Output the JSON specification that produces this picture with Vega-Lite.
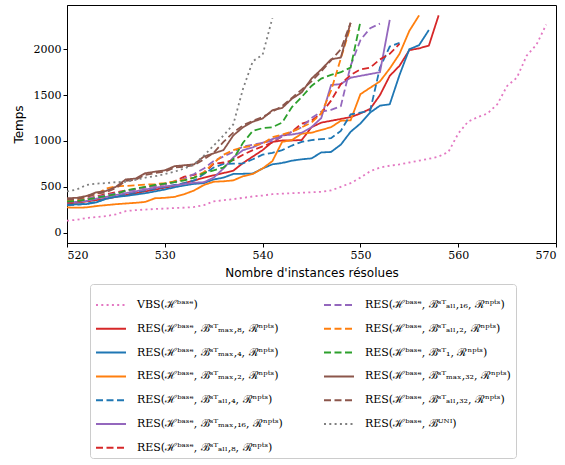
{
  "$schema": "https://vega.github.io/schema/vega-lite/v6.json",
  "width": 489,
  "height": 238,
  "autosize": {"type": "none"},
  "padding": {"left": 67, "top": 5, "right": 9, "bottom": 222},
  "background": "white",
  "config": {
    "view": {"stroke": "black", "strokeWidth": 1},
    "axis": {
      "domainColor": "black", "tickColor": "black", "tickSize": 4, "grid": false,
      "labelFont": "DejaVu Serif", "labelFontSize": 11, "labelColor": "black",
      "titleFont": "DejaVu Sans", "titleFontSize": 12, "titleFontWeight": "normal", "titleColor": "black"
    }
  },
  "datasets": {
    "labels": [
      {"s": "vbs", "label": "VBS(ℋᵇᵃˢᵉ)"},
      {"s": "m8", "label": "RES(ℋᵇᵃˢᵉ, ℬˢᵀₘₐₓ,₈, ℛⁿᵖᵗˢ)"},
      {"s": "m4", "label": "RES(ℋᵇᵃˢᵉ, ℬˢᵀₘₐₓ,₄, ℛⁿᵖᵗˢ)"},
      {"s": "m2", "label": "RES(ℋᵇᵃˢᵉ, ℬˢᵀₘₐₓ,₂, ℛⁿᵖᵗˢ)"},
      {"s": "a4", "label": "RES(ℋᵇᵃˢᵉ, ℬˢᵀₐₗₗ,₄, ℛⁿᵖᵗˢ)"},
      {"s": "m16", "label": "RES(ℋᵇᵃˢᵉ, ℬˢᵀₘₐₓ,₁₆, ℛⁿᵖᵗˢ)"},
      {"s": "a8", "label": "RES(ℋᵇᵃˢᵉ, ℬˢᵀₐₗₗ,₈, ℛⁿᵖᵗˢ)"},
      {"s": "a16", "label": "RES(ℋᵇᵃˢᵉ, ℬˢᵀₐₗₗ,₁₆, ℛⁿᵖᵗˢ)"},
      {"s": "a2", "label": "RES(ℋᵇᵃˢᵉ, ℬˢᵀₐₗₗ,₂, ℛⁿᵖᵗˢ)"},
      {"s": "b1", "label": "RES(ℋᵇᵃˢᵉ, ℬˢᵀ₁, ℛⁿᵖᵗˢ)"},
      {"s": "m32", "label": "RES(ℋᵇᵃˢᵉ, ℬˢᵀₘₐₓ,₃₂, ℛⁿᵖᵗˢ)"},
      {"s": "a32", "label": "RES(ℋᵇᵃˢᵉ, ℬˢᵀₐₗₗ,₃₂, ℛⁿᵖᵗˢ)"},
      {"s": "uni", "label": "RES(ℋᵇᵃˢᵉ, ℬᵁᴺᴵ)"}
    ]
  },
  "data": {
    "values": [
      {"x": 520, "vbs": 130, "m8": 320, "m4": 305, "m2": 275, "a4": 300, "m16": 330, "a8": 335, "a16": 345, "a2": 350, "b1": 340, "m32": 375, "a32": 362, "uni": 450},
      {"x": 521, "vbs": 140, "m8": 325, "m4": 308, "m2": 272, "a4": 305, "m16": 335, "a8": 340, "a16": 350, "a2": 360, "b1": 345, "m32": 380, "a32": 368, "uni": 470},
      {"x": 522, "vbs": 160, "m8": 340, "m4": 312, "m2": 275, "a4": 315, "m16": 345, "a8": 365, "a16": 370, "a2": 390, "b1": 360, "m32": 400, "a32": 388, "uni": 520},
      {"x": 523, "vbs": 170, "m8": 355, "m4": 330, "m2": 290, "a4": 335, "m16": 370, "a8": 395, "a16": 390, "a2": 420, "b1": 380, "m32": 440, "a32": 425, "uni": 535},
      {"x": 524, "vbs": 180, "m8": 370, "m4": 370, "m2": 300, "a4": 370, "m16": 390, "a8": 420, "a16": 410, "a2": 480, "b1": 400, "m32": 455, "a32": 440, "uni": 540},
      {"x": 525, "vbs": 200, "m8": 390, "m4": 390, "m2": 310, "a4": 400, "m16": 410, "a8": 440, "a16": 430, "a2": 505, "b1": 420, "m32": 500, "a32": 485, "uni": 550},
      {"x": 526, "vbs": 235, "m8": 410, "m4": 400, "m2": 318, "a4": 420, "m16": 430, "a8": 460, "a16": 450, "a2": 510, "b1": 460, "m32": 580, "a32": 565, "uni": 555},
      {"x": 527, "vbs": 245, "m8": 430, "m4": 415, "m2": 325, "a4": 440, "m16": 450, "a8": 475, "a16": 470, "a2": 515, "b1": 480, "m32": 590, "a32": 575, "uni": 575},
      {"x": 528, "vbs": 252, "m8": 450, "m4": 430, "m2": 335, "a4": 460, "m16": 470, "a8": 495, "a16": 490, "a2": 525, "b1": 500, "m32": 648, "a32": 630, "uni": 600},
      {"x": 529, "vbs": 258, "m8": 470, "m4": 450, "m2": 375, "a4": 480, "m16": 490, "a8": 510, "a16": 510, "a2": 530, "b1": 520, "m32": 665, "a32": 650, "uni": 615},
      {"x": 530, "vbs": 262, "m8": 490, "m4": 470, "m2": 380, "a4": 500, "m16": 505, "a8": 530, "a16": 530, "a2": 540, "b1": 535, "m32": 680, "a32": 665, "uni": 640},
      {"x": 531, "vbs": 268, "m8": 510, "m4": 495, "m2": 390, "a4": 520, "m16": 515, "a8": 560, "a16": 550, "a2": 560, "b1": 550, "m32": 725, "a32": 710, "uni": 665},
      {"x": 532, "vbs": 272, "m8": 540, "m4": 515, "m2": 420, "a4": 540, "m16": 530, "a8": 610, "a16": 590, "a2": 580, "b1": 570, "m32": 735, "a32": 720, "uni": 700},
      {"x": 533, "vbs": 280, "m8": 568, "m4": 532, "m2": 460, "a4": 570, "m16": 545, "a8": 630, "a16": 640, "a2": 600, "b1": 600, "m32": 745, "a32": 735, "uni": 745},
      {"x": 534, "vbs": 300, "m8": 600, "m4": 540, "m2": 520, "a4": 640, "m16": 550, "a8": 650, "a16": 700, "a2": 660, "b1": 650, "m32": 830, "a32": 800, "uni": 840},
      {"x": 535, "vbs": 340, "m8": 625, "m4": 580, "m2": 555, "a4": 710, "m16": 600, "a8": 750, "a16": 780, "a2": 760, "b1": 680, "m32": 865, "a32": 870, "uni": 950},
      {"x": 536, "vbs": 355, "m8": 650, "m4": 600, "m2": 560, "a4": 750, "m16": 700, "a8": 765, "a16": 830, "a2": 850, "b1": 710, "m32": 900, "a32": 990, "uni": 1060},
      {"x": 537, "vbs": 365, "m8": 675, "m4": 640, "m2": 570, "a4": 752, "m16": 820, "a8": 790, "a16": 880, "a2": 900, "b1": 800, "m32": 1060, "a32": 1090, "uni": 1180},
      {"x": 538, "vbs": 380, "m8": 760, "m4": 642, "m2": 615, "a4": 755, "m16": 900, "a8": 850, "a16": 940, "a2": 930, "b1": 980, "m32": 1150, "a32": 1170, "uni": 1570},
      {"x": 539, "vbs": 395, "m8": 830, "m4": 645, "m2": 640, "a4": 800, "m16": 930, "a8": 900, "a16": 960, "a2": 950, "b1": 1110, "m32": 1210, "a32": 1220, "uni": 1870},
      {"x": 540, "vbs": 405, "m8": 900, "m4": 700, "m2": 700, "a4": 850, "m16": 980, "a8": 940, "a16": 980, "a2": 970, "b1": 1140, "m32": 1245, "a32": 1260, "uni": 1940},
      {"x": 541, "vbs": 420, "m8": 990, "m4": 745, "m2": 780, "a4": 870, "m16": 1020, "a8": 985, "a16": 1000, "a2": 1040, "b1": 1150, "m32": 1335, "a32": 1320, "uni": 2340},
      {"x": 542, "vbs": 425, "m8": 1005, "m4": 760, "m2": 990, "a4": 900, "m16": 1060, "a8": 1050, "a16": 1050, "a2": 1070, "b1": 1200, "m32": 1360, "a32": 1380},
      {"x": 543, "vbs": 430, "m8": 1005, "m4": 785, "m2": 1010, "a4": 950, "m16": 1070, "a8": 1100, "a16": 1100, "a2": 1100, "b1": 1370, "m32": 1460, "a32": 1470},
      {"x": 544, "vbs": 435, "m8": 1010, "m4": 800, "m2": 1080, "a4": 990, "m16": 1090, "a8": 1190, "a16": 1150, "a2": 1150, "b1": 1480, "m32": 1530, "a32": 1560},
      {"x": 545, "vbs": 440, "m8": 1150, "m4": 810, "m2": 1090, "a4": 1010, "m16": 1150, "a8": 1220, "a16": 1250, "a2": 1200, "b1": 1600, "m32": 1680, "a32": 1650},
      {"x": 546, "vbs": 445, "m8": 1200, "m4": 875, "m2": 1120, "a4": 1020, "m16": 1250, "a8": 1300, "a16": 1320, "a2": 1300, "b1": 1680, "m32": 1780, "a32": 1760},
      {"x": 547, "vbs": 460, "m8": 1220, "m4": 880, "m2": 1150, "a4": 1030, "m16": 1610, "a8": 1440, "a16": 1340, "a2": 1550, "b1": 1720, "m32": 1890, "a32": 1880},
      {"x": 548, "vbs": 500, "m8": 1240, "m4": 960, "m2": 1220, "a4": 1110, "m16": 1620, "a8": 1620, "a16": 1380, "a2": 1900, "b1": 1750, "m32": 1910, "a32": 2000},
      {"x": 549, "vbs": 540, "m8": 1260, "m4": 1100, "m2": 1225, "a4": 1290, "m16": 1690, "a8": 1720, "a16": 1820, "a2": 2250, "b1": 1800, "m32": 2290, "a32": 2290},
      {"x": 550, "vbs": 600, "m8": 1300, "m4": 1190, "m2": 1510, "a4": 1310, "m16": 1710, "a8": 1780, "a16": 2100, "b1": 2300},
      {"x": 551, "vbs": 670, "m8": 1350, "m4": 1310, "m2": 1580, "a4": 1330, "m16": 1730, "a8": 1800, "a16": 2230},
      {"x": 552, "vbs": 710, "m8": 1500, "m4": 1385, "m2": 1650, "a4": 1800, "m16": 1750, "a8": 1890, "a16": 2280},
      {"x": 553, "vbs": 730, "m8": 1710, "m4": 1400, "m2": 1790, "a4": 2030, "m16": 2320, "a8": 1950},
      {"x": 554, "vbs": 745, "m8": 1820, "m4": 1720, "m2": 1950, "a4": 2070, "a8": 2060},
      {"x": 555, "vbs": 765, "m8": 1990, "m4": 2000, "m2": 2200},
      {"x": 556, "vbs": 785, "m8": 2010, "m4": 2045, "m2": 2370},
      {"x": 557, "vbs": 805, "m8": 2040, "m4": 2210},
      {"x": 558, "vbs": 830, "m8": 2370},
      {"x": 559, "vbs": 880},
      {"x": 560, "vbs": 1080},
      {"x": 561, "vbs": 1210},
      {"x": 562, "vbs": 1260},
      {"x": 563, "vbs": 1300},
      {"x": 564, "vbs": 1400},
      {"x": 565, "vbs": 1600},
      {"x": 566, "vbs": 1690},
      {"x": 567, "vbs": 1930},
      {"x": 568, "vbs": 2050},
      {"x": 569, "vbs": 2270}
    ]
  },
  "transform": [
    {"fold": ["vbs", "m8", "m4", "m2", "a4", "m16", "a8", "a16", "a2", "b1", "m32", "a32", "uni"], "as": ["s", "y"]},
    {"filter": "datum.y != null"},
    {"lookup": "s", "from": {"data": {"name": "labels"}, "key": "s", "fields": ["label"]}}
  ],
  "mark": {"type": "line", "strokeWidth": 1.8, "clip": true},
  "encoding": {
    "x": {"field": "x", "type": "quantitative", "scale": {"domain": [520, 570], "nice": false, "zero": false},
      "axis": {"values": [520, 530, 540, 550, 560, 570], "title": "Nombre d'instances résolues", "titlePadding": 7}},
    "y": {"field": "y", "type": "quantitative", "scale": {"domain": [-113, 2483], "nice": false, "zero": false},
      "axis": {"values": [0, 500, 1000, 1500, 2000], "format": "d", "title": "Temps", "titlePadding": 8}},
    "detail": {"field": "s"},
    "color": {"field": "label", "type": "nominal",
      "scale": {
        "domain": ["VBS(ℋᵇᵃˢᵉ)", "RES(ℋᵇᵃˢᵉ, ℬˢᵀₘₐₓ,₈, ℛⁿᵖᵗˢ)", "RES(ℋᵇᵃˢᵉ, ℬˢᵀₘₐₓ,₄, ℛⁿᵖᵗˢ)", "RES(ℋᵇᵃˢᵉ, ℬˢᵀₘₐₓ,₂, ℛⁿᵖᵗˢ)", "RES(ℋᵇᵃˢᵉ, ℬˢᵀₐₗₗ,₄, ℛⁿᵖᵗˢ)", "RES(ℋᵇᵃˢᵉ, ℬˢᵀₘₐₓ,₁₆, ℛⁿᵖᵗˢ)", "RES(ℋᵇᵃˢᵉ, ℬˢᵀₐₗₗ,₈, ℛⁿᵖᵗˢ)", "RES(ℋᵇᵃˢᵉ, ℬˢᵀₐₗₗ,₁₆, ℛⁿᵖᵗˢ)", "RES(ℋᵇᵃˢᵉ, ℬˢᵀₐₗₗ,₂, ℛⁿᵖᵗˢ)", "RES(ℋᵇᵃˢᵉ, ℬˢᵀ₁, ℛⁿᵖᵗˢ)", "RES(ℋᵇᵃˢᵉ, ℬˢᵀₘₐₓ,₃₂, ℛⁿᵖᵗˢ)", "RES(ℋᵇᵃˢᵉ, ℬˢᵀₐₗₗ,₃₂, ℛⁿᵖᵗˢ)", "RES(ℋᵇᵃˢᵉ, ℬᵁᴺᴵ)"],
        "range": ["#e377c2", "#d62728", "#1f77b4", "#ff7f0e", "#1f77b4", "#9467bd", "#d62728", "#9467bd", "#ff7f0e", "#2ca02c", "#8c564b", "#8c564b", "#7f7f7f"]
      },
      "legend": {
        "orient": "none", "legendX": 23, "legendY": 279, "columns": 2, "title": null,
        "symbolType": "stroke", "symbolSize": 900, "symbolStrokeWidth": 2,
        "labelFont": "DejaVu Serif", "labelFontSize": 11, "labelColor": "black", "labelOffset": 10, "labelLimit": 400,
        "rowPadding": 2.8, "columnPadding": 37, "padding": 5,
        "fillColor": "white", "strokeColor": "#cccccc", "cornerRadius": 3
      }
    },
    "strokeDash": {"field": "label", "type": "nominal",
      "scale": {
        "domain": ["VBS(ℋᵇᵃˢᵉ)", "RES(ℋᵇᵃˢᵉ, ℬˢᵀₘₐₓ,₈, ℛⁿᵖᵗˢ)", "RES(ℋᵇᵃˢᵉ, ℬˢᵀₘₐₓ,₄, ℛⁿᵖᵗˢ)", "RES(ℋᵇᵃˢᵉ, ℬˢᵀₘₐₓ,₂, ℛⁿᵖᵗˢ)", "RES(ℋᵇᵃˢᵉ, ℬˢᵀₐₗₗ,₄, ℛⁿᵖᵗˢ)", "RES(ℋᵇᵃˢᵉ, ℬˢᵀₘₐₓ,₁₆, ℛⁿᵖᵗˢ)", "RES(ℋᵇᵃˢᵉ, ℬˢᵀₐₗₗ,₈, ℛⁿᵖᵗˢ)", "RES(ℋᵇᵃˢᵉ, ℬˢᵀₐₗₗ,₁₆, ℛⁿᵖᵗˢ)", "RES(ℋᵇᵃˢᵉ, ℬˢᵀₐₗₗ,₂, ℛⁿᵖᵗˢ)", "RES(ℋᵇᵃˢᵉ, ℬˢᵀ₁, ℛⁿᵖᵗˢ)", "RES(ℋᵇᵃˢᵉ, ℬˢᵀₘₐₓ,₃₂, ℛⁿᵖᵗˢ)", "RES(ℋᵇᵃˢᵉ, ℬˢᵀₐₗₗ,₃₂, ℛⁿᵖᵗˢ)", "RES(ℋᵇᵃˢᵉ, ℬᵁᴺᴵ)"],
        "range": [[2, 3.3], [1, 0], [1, 0], [1, 0], [7, 3.5], [1, 0], [7, 3.5], [7, 3.5], [7, 3.5], [7, 3.5], [1, 0], [7, 3.5], [2, 3.3]]
      },
      "legend": null
    }
  }
}
